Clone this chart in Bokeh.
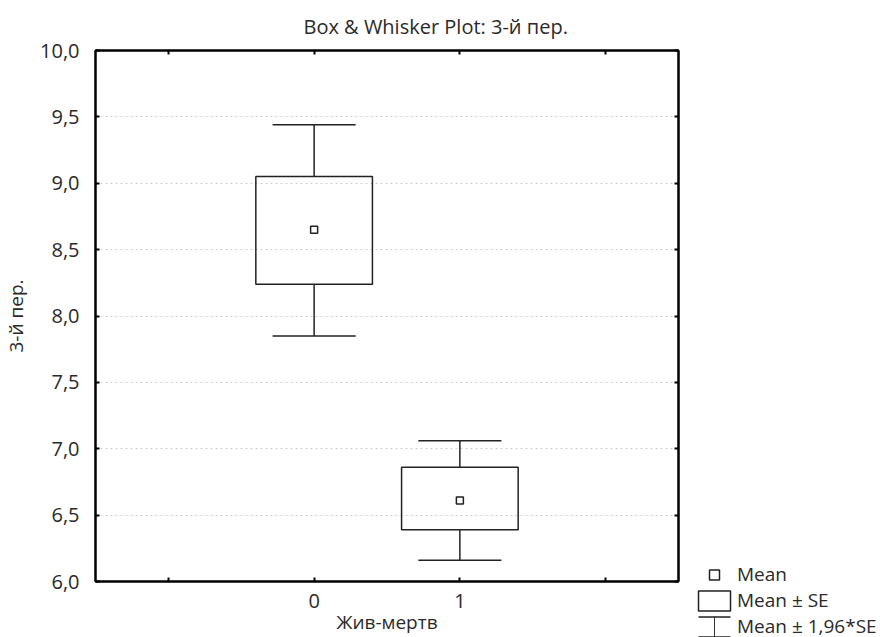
from bokeh.plotting import figure
from bokeh.layouts import row, column
from bokeh.models import (Range1d, FixedTicker, LinearAxis, Legend, LegendItem,
                          ColumnDataSource, Spacer)
from bokeh.transform import dodge
from bokeh.embed import file_html
from bokeh.resources import INLINE

# ---- data ----
categories = [0, 1]
means = [8.65, 6.61]
se_low = [8.24, 6.39]
se_high = [9.05, 6.86]
ci_low = [7.85, 6.16]
ci_high = [9.44, 7.06]

y_ticks = [6.0, 6.5, 7.0, 7.5, 8.0, 8.5, 9.0, 9.5, 10.0]
y_tick_labels = ["6,0", "6,5", "7,0", "7,5", "8,0", "8,5", "9,0", "9,5", "10,0"]
x_ticks = [-1, 0, 1, 2]
x_tick_labels = ["", "0", "1", ""]

title_text = "Box & Whisker Plot: 3-й пер."
x_label = "Жив-мертв"
y_label = "3-й пер."
legend_labels = ["Mean", "Mean ± SE", "Mean ± 1,96*SE"]

FONT = "Open Sans"
INK = "#222222"
TXT = "#2a2a2a"

src = ColumnDataSource(dict(x=categories, mean=means, se_lo=se_low, se_hi=se_high,
                            ci_lo=ci_low, ci_hi=ci_high))

p = figure(width=690, height=637, x_range=Range1d(-1.5, 2.5), y_range=Range1d(6, 10),
           output_backend="svg", toolbar_location=None,
           min_border_left=93, min_border_right=12, min_border_top=50, min_border_bottom=56)
p.background_fill_color = "white"
p.border_fill_color = "white"
p.outline_line_color = "black"
p.outline_line_width = 2

# title
p.title.text = title_text
p.title.align = "left"
p.title.offset = 208
p.title.text_font = FONT
p.title.text_font_size = "20px"
p.title.text_font_style = "normal"
p.title.text_color = TXT
p.title.standoff = 21

xt = FixedTicker(ticks=x_ticks)
yt = FixedTicker(ticks=y_ticks)

def style_axis(ax):
    ax.axis_line_color = "black"
    ax.axis_line_width = 2
    ax.major_tick_in = 4
    ax.major_tick_out = 0
    ax.major_tick_line_color = "black"
    ax.major_tick_line_width = 2
    ax.minor_tick_line_color = None
    ax.major_label_text_font = FONT
    ax.major_label_text_font_size = "20px"
    ax.major_label_text_color = TXT
    ax.axis_label_text_font = FONT
    ax.axis_label_text_font_size = "19px"
    ax.axis_label_text_font_style = "normal"
    ax.axis_label_text_color = TXT

xa = p.xaxis[0]
ya = p.yaxis[0]
xa.ticker = xt
ya.ticker = yt
style_axis(xa)
style_axis(ya)
xa.major_label_overrides = dict(zip(x_ticks, x_tick_labels))
ya.major_label_overrides = dict(zip(y_ticks, y_tick_labels))
xa.axis_label = x_label
ya.axis_label = y_label
xa.major_label_standoff = 12
xa.axis_label_standoff = -2
ya.major_label_standoff = 16
ya.axis_label_standoff = 8

# mirrored tick marks on the top and right edges (no labels)
top_ax = LinearAxis(ticker=xt)
right_ax = LinearAxis(ticker=yt)
for ax, ticks in ((top_ax, x_ticks), (right_ax, y_ticks)):
    style_axis(ax)
    ax.major_label_overrides = {t: "" for t in ticks}
    ax.major_label_text_font_size = "1px"
    ax.major_label_standoff = 0
p.add_layout(top_ax, "above")
p.add_layout(right_ax, "right")

p.xgrid.visible = False
p.ygrid.ticker = yt
p.ygrid.grid_line_color = "#cfcfcf"
p.ygrid.grid_line_dash = "2 3"
p.ygrid.grid_line_width = 1

# ---- marks ----
p.vbar(x="x", width=0.8, bottom="se_lo", top="se_hi", source=src,
       fill_color=None, line_color=INK, line_width=1.5)
p.segment(x0="x", y0="se_hi", x1="x", y1="ci_hi", source=src, line_color=INK, line_width=1.5)
p.segment(x0="x", y0="ci_lo", x1="x", y1="se_lo", source=src, line_color=INK, line_width=1.5)
p.segment(x0=dodge("x", -0.285), y0="ci_hi", x1=dodge("x", 0.285), y1="ci_hi", source=src,
          line_color=INK, line_width=1.5)
p.segment(x0=dodge("x", -0.285), y0="ci_lo", x1=dodge("x", 0.285), y1="ci_lo", source=src,
          line_color=INK, line_width=1.5)
p.scatter(x="x", y="mean", source=src, marker="square", size=7,
          fill_color="white", line_color=INK, line_width=1.5)

# ---- legend strip (bottom right corner) ----
lf = figure(width=190, height=75, x_range=Range1d(-1.5, 2.5), y_range=Range1d(6, 10),
            output_backend="svg", toolbar_location=None, x_axis_type=None, y_axis_type=None,
            min_border=0, min_border_left=0, min_border_right=0, min_border_top=0,
            min_border_bottom=0)
lf.outline_line_color = None
lf.grid.visible = False
lf.background_fill_color = "white"
lf.border_fill_color = "white"
lf.title.visible = False

# invisible twins of the chart glyphs, used only to draw the legend symbols
mean_r = lf.scatter(x="x", y="mean", source=src, marker="square", size=7,
                    fill_color="white", line_color=INK, line_width=1.5, visible=False)
box_r = lf.vbar(x="x", width=0.8, bottom="se_lo", top="se_hi", source=src,
                fill_color=None, line_color=INK, line_width=1.5, visible=False)
wh_r = lf.vbar(x="x", width=0.57, bottom="ci_lo", top="ci_hi", source=src,
               fill_color=None, line_color=INK, line_width=1.5, line_dash="32 20",
               visible=False)
stem_r = lf.vbar(x="x", width=0.57, bottom="ci_lo", top="ci_hi", source=src,
                 fill_color=None, line_color=INK, line_width=1, visible=False)

common = dict(glyph_width=40, glyph_height=25, label_height=25, spacing=0, padding=0,
              margin=0, label_standoff=3, border_line_color=None, background_fill_alpha=0,
              label_text_font=FONT, label_text_font_size="19px", label_text_color=TXT)

leg = Legend(items=[LegendItem(label=legend_labels[0], renderers=[mean_r]),
                    LegendItem(label=legend_labels[1], renderers=[box_r]),
                    LegendItem(label=legend_labels[2], renderers=[wh_r])],
             location=(4, -2), **common)
lf.add_layout(leg)

# stem of the whisker symbol (a very narrow box drawn as a vertical bar)
common_stem = dict(common)
common_stem["glyph_width"] = 1
stem = Legend(items=[LegendItem(label=" ", renderers=[stem_r])],
              location=(23.5, -2), **common_stem)
lf.add_layout(stem)

side = column(Spacer(width=190, height=562), lf, spacing=0)
layout = row(p, side, spacing=0)
open("out.html", "w").write(file_html(layout, INLINE))
